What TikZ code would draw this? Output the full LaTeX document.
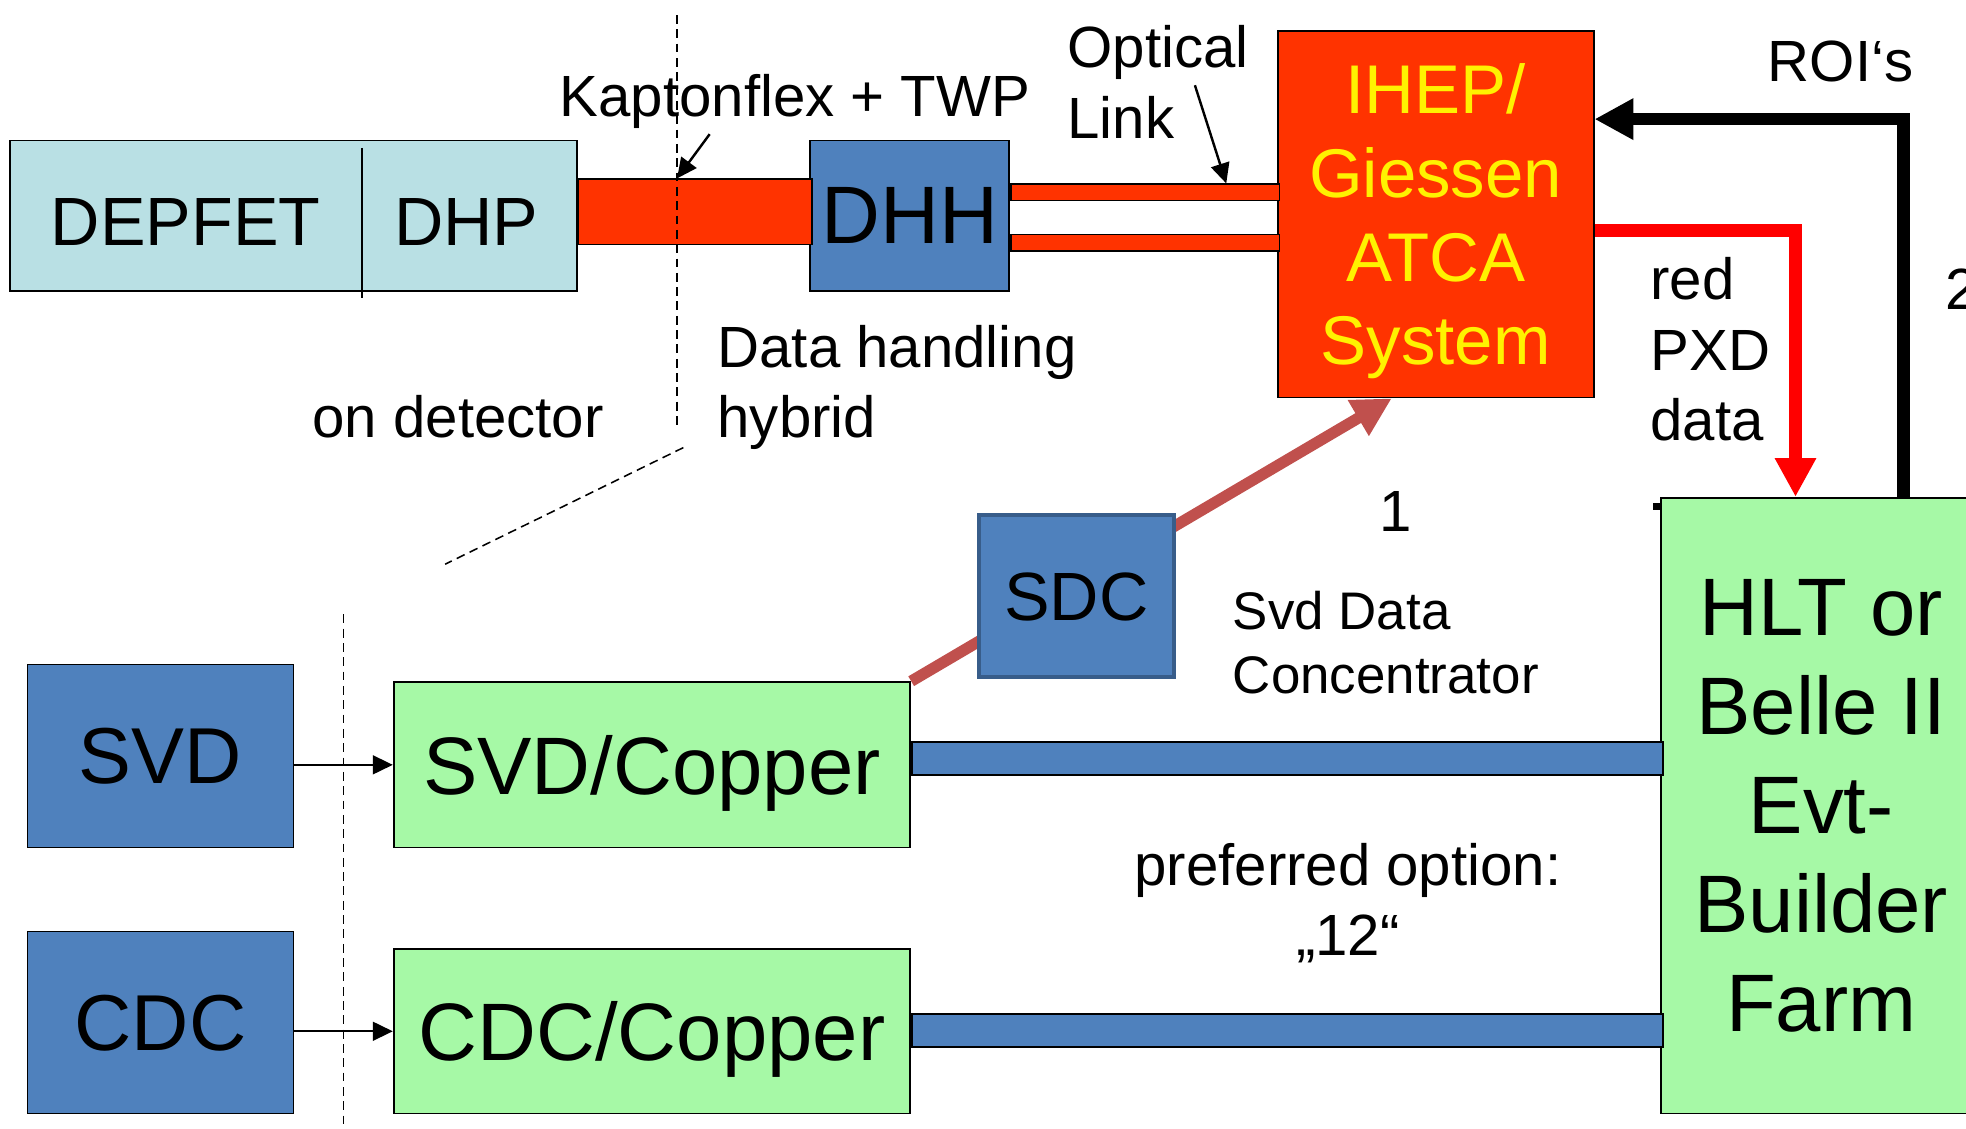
\documentclass[tikz,border=0pt]{standalone}
\usepackage{fontspec}
\setmainfont{Liberation Sans}
\usetikzlibrary{arrows.meta,backgrounds}

\definecolor{detblue}{RGB}{185,224,228}
\definecolor{flexred}{RGB}{255,51,0}
\definecolor{modblue}{RGB}{79,129,189}
\definecolor{sdcframe}{RGB}{56,93,138}
\definecolor{copgreen}{RGB}{166,249,166}
\definecolor{sdcred}{RGB}{192,80,77}

\tikzset{
  box/.style={draw=black, line width=0.8pt, inner sep=0pt, text depth=0pt, align=center},
  lbl/.style={inner sep=0pt, font=\fontsize{26.4}{32}\selectfont},
  divline/.style={line width=0.7pt, dash pattern=on 4pt off 2.5pt},
  thinarrow/.style={line width=1.1pt, -{Triangle[length=0.32cm, width=0.3cm]}},
  fatarrow/.style={line width=0.2cm, -{Triangle[length=0.62cm, width=0.62cm]}}
}

\begin{document}
\begin{tikzpicture}
  \useasboundingbox (0,0) rectangle (31.36,18);
  \clip (0,0) rectangle (31.36,18);
  \coordinate (sep) at (10.80,17.76);
  \coordinate (roi) at (30.36,16.10);
  \coordinate (pxd) at (28.64,14.32);
  \coordinate (kapttail) at (11.32,15.86);
  \coordinate (opttail) at (19.06,16.64);
  %On detector
  \node[box, fill=detblue, minimum width=9.04cm, minimum height=2.40cm] (det) at (4.68,14.56) {};
  \node[font=\fontsize{31}{37}\selectfont] (depfet) at (2.96,14.46) {DEPFET};
  \node[font=\fontsize{31}{37}\selectfont] (dhp) at (7.44,14.46) {DHP};
  \draw[line width=1pt] (5.78,15.64) -- (5.78,13.24);
  %DHH and links
  \node[box, fill=modblue, minimum width=3.18cm, minimum height=2.40cm,
        font=\fontsize{37}{44}\selectfont] (dhh) at (14.51,14.56) {DHH};
  \node[box, fill=flexred, minimum width=3.72cm, minimum height=1.04cm, anchor=west] (flex) at (det.east |- 0,14.62) {};
  \node[box, fill=flexred, text=yellow, minimum width=5.04cm, minimum height=5.84cm,
        font=\fontsize{31.3}{38}\selectfont] (atca) at (22.90,14.58) {IHEP/\\Giessen\\ATCA\\System};
  \node[box, fill=flexred, minimum width=4.28cm, minimum height=0.26cm, anchor=west] (olinka) at (dhh.east |- 0,14.93) {};
  \node[box, fill=flexred, minimum width=4.28cm, minimum height=0.26cm, anchor=west] (olinkb) at (dhh.east |- 0,14.13) {};
  %HLT
  \fill (26.36,9.98) rectangle (26.50,9.86);
  \node[box, fill=copgreen, minimum width=5.10cm, minimum height=9.82cm,
        font=\fontsize{37}{45}\selectfont] (hlt) at (29.05,5.15) {HLT or\\Belle II\\Evt-\\Builder\\Farm};
  %SVD and CDC
  \node[box, fill=modblue, minimum width=4.24cm, minimum height=2.92cm,
        font=\fontsize{36}{43}\selectfont] (svd) at (2.56,5.94) {SVD};
  \node[box, fill=modblue, minimum width=4.24cm, minimum height=2.90cm,
        font=\fontsize{36}{43}\selectfont] (cdc) at (2.56,1.69) {CDC};
  \node[box, fill=copgreen, minimum width=8.24cm, minimum height=2.64cm,
        font=\fontsize{37}{44}\selectfont] (svdcu) at (10.40,5.80) {SVD/Copper};
  \node[box, fill=copgreen, minimum width=8.24cm, minimum height=2.62cm,
        font=\fontsize{37}{44}\selectfont] (cdccu) at (10.40,1.55) {CDC/Copper};
  \node[box, fill=modblue, minimum width=11.98cm, minimum height=0.52cm, anchor=west] (svdbar) at (svdcu.east |- 0,5.90) {};
  \node[box, fill=modblue, minimum width=11.98cm, minimum height=0.52cm, anchor=west] (cdcbar) at (cdccu.east |- 0,1.56) {};
  \node[box, fill=modblue, draw=sdcframe, line width=1.8pt, minimum width=3.10cm, minimum height=2.58cm,
        font=\fontsize{31}{37}\selectfont] (sdc) at (17.17,8.49) {SDC};
  \begin{pgfonlayer}{background}
    \draw[fatarrow, line width=0.18cm, sdcred] (svdcu.north east) -- (atca.south -| 22.20,0);
  \end{pgfonlayer}
  %Separators
  \draw[divline] (sep) -- (10.80,11.20);
  \draw[divline] (10.90,10.86) -- (7.10,9.00);
  \draw[divline] (5.48,8.20) -- (5.48,0);
  %Labels
  \node[lbl, anchor=base] (kapton) at (12.68,16.14) {Kaptonflex + TWP};
  \node[lbl, anchor=north west, align=left] (optical) at (17.02,17.60) {Optical\\Link};
  \node[lbl, anchor=north west, align=left] (dhhlbl) at (11.44,12.82) {Data handling\\hybrid};
  \node[lbl, anchor=base west] (ondet) at (4.98,11.02) {on detector};
  \node[lbl, anchor=base] (roilbl) at (29.36,16.70) {ROI‘s};
  \node[lbl, anchor=north west, align=left] (pxdlbl) at (26.32,13.90) {red\\PXD\\data};
  \node[lbl, anchor=base west] (two) at (31.02,13.06) {2};
  \node[lbl, anchor=base] (one) at (22.26,9.52) {1};
  \node[lbl, anchor=north west, align=left, font=\fontsize{24}{29}\selectfont] (sdclbl) at (19.66,8.58) {Svd Data\\Concentrator};
  \node[lbl, anchor=north, align=center] (pref) at (21.50,4.56) {preferred option:\\„12“};
  %Arrows
  \draw[thinarrow] (kapttail) -- (flex.north -| sep);
  \draw[thinarrow] (opttail) -- (olinka.north -| 19.56,0);
  \draw[thinarrow] (svd.east |- svdcu.west) -- (svdcu.west);
  \draw[thinarrow] (cdc.east |- cdccu.west) -- (cdccu.west);
  \draw[fatarrow, black] (hlt.north -| roi) |- (atca.east |- roi);
  \draw[fatarrow, red] (atca.east |- pxd) -| (hlt.north -| pxd);
\end{tikzpicture}
\end{document}
